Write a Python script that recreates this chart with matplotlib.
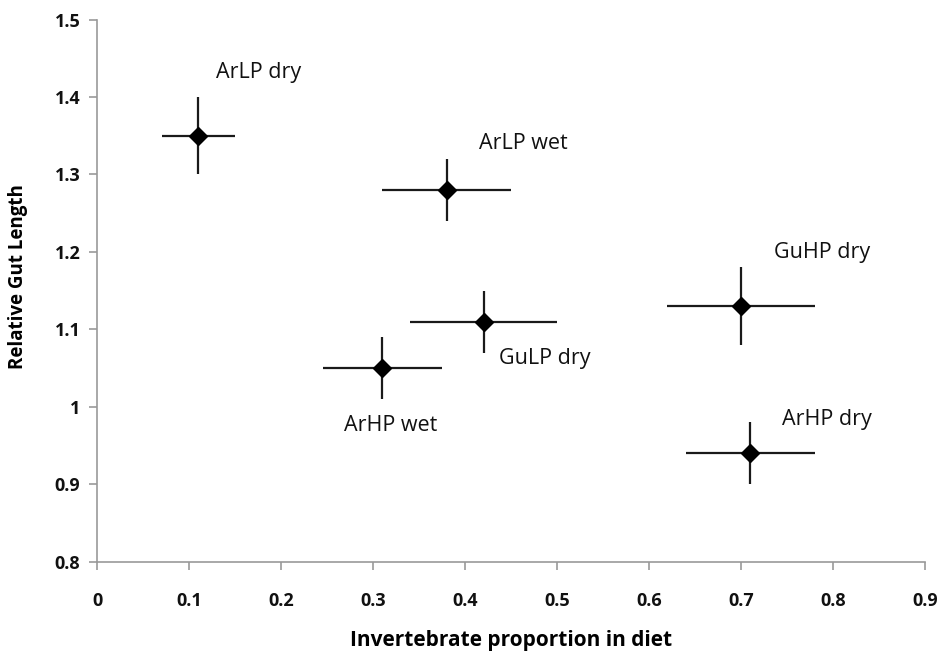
import matplotlib.pyplot as plt

plt.rcParams['font.family'] = ['Open Sans', 'DejaVu Sans']

groups = ['ArLP dry', 'ArLP wet', 'GuLP dry', 'ArHP wet', 'GuHP dry', 'ArHP dry']
invert_prop = [0.11, 0.38, 0.42, 0.31, 0.70, 0.71]
invert_err = [0.04, 0.07, 0.08, 0.065, 0.08, 0.07]
gut_length = [1.35, 1.28, 1.11, 1.05, 1.13, 0.94]
gut_err = [0.05, 0.04, 0.04, 0.04, 0.05, 0.04]

# label anchor (left edge, vertical centre) for each group
label_x = [0.129, 0.415, 0.437, 0.268, 0.736, 0.745]
label_y = [1.432, 1.340, 1.062, 0.976, 1.199, 0.984]

fig = plt.figure(figsize=(9.43, 6.53), dpi=100)
ax = fig.add_axes([0.103, 0.14, 0.878, 0.830])

ax.errorbar(invert_prop, gut_length, xerr=invert_err, yerr=gut_err,
            fmt='D', color='black', ecolor='#1a1a1a', elinewidth=1.6,
            markersize=9, capsize=0, zorder=3)

for name, lx, ly in zip(groups, label_x, label_y):
    ax.text(lx, ly, name, fontsize=15.5, va='center', ha='left', color='#111111')

ax.set_xlim(0, 0.9)
ax.set_ylim(0.8, 1.5)
ax.set_xticks([0, 0.1, 0.2, 0.3, 0.4, 0.5, 0.6, 0.7, 0.8, 0.9])
ax.set_xticklabels(['0', '0.1', '0.2', '0.3', '0.4', '0.5', '0.6', '0.7', '0.8', '0.9'])
ax.set_yticks([0.8, 0.9, 1.0, 1.1, 1.2, 1.3, 1.4, 1.5])
ax.set_yticklabels(['0.8', '0.9', '1', '1.1', '1.2', '1.3', '1.4', '1.5'])

for s in ['top', 'right']:
    ax.spines[s].set_visible(False)
for s in ['left', 'bottom']:
    ax.spines[s].set_color('#999999')
    ax.spines[s].set_linewidth(1.2)

ax.tick_params(axis='both', direction='out', length=6, width=1.2, color='#999999',
               labelsize=13, labelcolor='#111111')
ax.tick_params(axis='x', pad=16)
ax.tick_params(axis='y', pad=6)
for lbl in ax.get_xticklabels() + ax.get_yticklabels():
    lbl.set_fontweight('bold')

ax.set_xlabel('Invertebrate proportion in diet', fontsize=15, fontweight='bold', labelpad=14)
ax.set_ylabel('Relative Gut Length', fontsize=13.5, fontweight='bold')
ax.yaxis.set_label_coords(-0.083, 0.526)

fig.savefig('out.png', dpi=100)
